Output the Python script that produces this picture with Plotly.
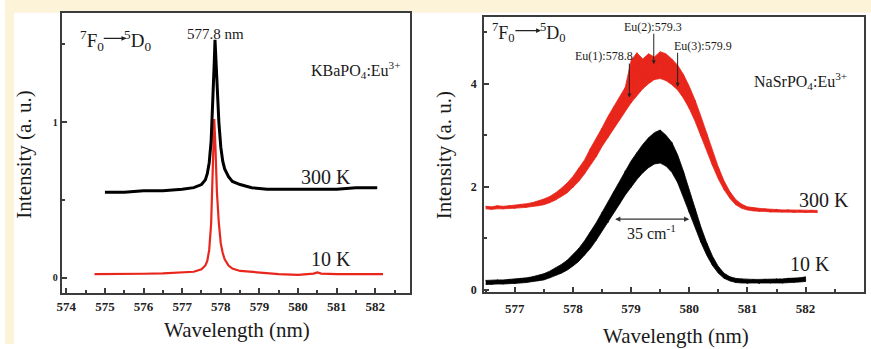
import plotly.graph_objects as go

W, H = 871, 349
CREAM = "#FDF3D8"
RED = "#E8261C"
AXC = "#3C3C3C"
FONT = "Liberation Serif"

# ---- KBaPO4:Eu3+ (left panel) ----
kba_300k_wl = [575.0, 575.5, 576.0, 576.5, 577.0, 577.3, 577.5, 577.6, 577.65, 577.7, 577.75,
               577.8, 577.83, 577.85, 577.87, 577.9, 577.95, 578.0, 578.05, 578.1, 578.2, 578.3,
               578.5, 578.8, 579.2, 579.6, 580.0, 580.5, 581.0, 581.5, 582.05]
kba_300k_int = [0.55, 0.55, 0.56, 0.56, 0.57, 0.58, 0.60, 0.63, 0.67, 0.74, 0.88,
                1.15, 1.38, 1.53, 1.40, 1.22, 1.00, 0.84, 0.75, 0.70, 0.65, 0.62,
                0.60, 0.58, 0.57, 0.57, 0.57, 0.57, 0.57, 0.58, 0.58]

kba_10k_wl = [574.73, 575.5, 576.0, 576.5, 577.0, 577.3, 577.5, 577.6, 577.65, 577.7, 577.75,
              577.8, 577.83, 577.86, 577.9, 577.95, 578.0, 578.05, 578.1, 578.2, 578.3, 578.5,
              579.0, 579.5, 580.0, 580.4, 580.5, 580.6, 581.0, 581.5, 582.2]
kba_10k_int = [0.025, 0.025, 0.027, 0.03, 0.035, 0.04, 0.055, 0.08, 0.11, 0.18, 0.35,
               0.70, 1.02, 0.85, 0.55, 0.35, 0.22, 0.16, 0.12, 0.08, 0.06, 0.045,
               0.035, 0.025, 0.02, 0.028, 0.036, 0.028, 0.025, 0.025, 0.025]

# ---- NaSrPO4:Eu3+ (right panel): upper / lower envelope of the noisy spectra ----
nasr_300k_wl = [576.5, 576.6, 576.7, 576.8, 576.9, 577.0, 577.1, 577.2, 577.3, 577.4,
                577.5, 577.6, 577.7, 577.8, 577.9, 578.0, 578.1, 578.2, 578.3, 578.4,
                578.5, 578.6, 578.7, 578.8, 578.9, 579.0, 579.1, 579.2, 579.3, 579.4,
                579.5, 579.6, 579.7, 579.8, 579.9, 580.0, 580.1, 580.2, 580.3, 580.4,
                580.5, 580.6, 580.7, 580.8, 580.9, 581.0, 581.1, 581.2, 581.3, 581.4,
                581.5, 581.6, 581.7, 581.8, 581.9, 582.0, 582.1, 582.2]
nasr_300k_hi = [1.62, 1.61, 1.63, 1.62, 1.63, 1.64, 1.65, 1.67, 1.69, 1.72,
                1.76, 1.81, 1.88, 1.97, 2.07, 2.20, 2.36, 2.52, 2.74, 2.93,
                3.14, 3.36, 3.55, 3.76, 3.93, 4.45, 4.60, 4.48, 4.58, 4.52,
                4.62, 4.58, 4.48, 4.36, 4.18, 3.95, 3.68, 3.37, 3.03, 2.70,
                2.38, 2.11, 1.90, 1.75, 1.66, 1.61, 1.59, 1.58, 1.57, 1.56,
                1.56, 1.55, 1.55, 1.55, 1.54, 1.54, 1.54, 1.54]
nasr_300k_lo = [1.57, 1.56, 1.57, 1.57, 1.58, 1.58, 1.59, 1.60, 1.61, 1.63,
                1.65, 1.69, 1.74, 1.81, 1.88, 1.98, 2.10, 2.25, 2.41, 2.58,
                2.78, 2.95, 3.12, 3.30, 3.46, 3.63, 3.77, 3.90, 4.00, 4.08,
                4.10, 4.06, 3.98, 3.88, 3.72, 3.52, 3.27, 2.99, 2.70, 2.41,
                2.15, 1.94, 1.77, 1.65, 1.58, 1.55, 1.53, 1.52, 1.52, 1.51,
                1.51, 1.51, 1.50, 1.50, 1.50, 1.50, 1.50, 1.50]

nasr_10k_wl = [576.5, 576.6, 576.7, 576.8, 576.9, 577.0, 577.1, 577.2, 577.3, 577.4,
               577.5, 577.6, 577.7, 577.8, 577.9, 578.0, 578.1, 578.2, 578.3, 578.4,
               578.5, 578.6, 578.7, 578.8, 578.9, 579.0, 579.1, 579.2, 579.3, 579.4,
               579.5, 579.6, 579.7, 579.8, 579.9, 580.0, 580.1, 580.2, 580.3, 580.4,
               580.5, 580.6, 580.7, 580.8, 580.9, 581.0, 581.1, 581.2, 581.3, 581.4,
               581.5, 581.6, 581.7, 581.8, 581.9, 582.0]
nasr_10k_hi = [0.18, 0.19, 0.19, 0.19, 0.20, 0.20, 0.21, 0.23, 0.25, 0.28,
               0.31, 0.36, 0.42, 0.49, 0.57, 0.68, 0.80, 0.95, 1.12, 1.30,
               1.50, 1.70, 1.90, 2.10, 2.31, 2.50, 2.66, 2.82, 2.95, 3.05,
               3.10, 3.00, 2.86, 2.62, 2.30, 1.93, 1.57, 1.22, 0.91, 0.65,
               0.45, 0.32, 0.25, 0.22, 0.21, 0.20, 0.20, 0.20, 0.20, 0.21,
               0.21, 0.21, 0.22, 0.22, 0.23, 0.25]
nasr_10k_lo = [0.10, 0.10, 0.11, 0.11, 0.12, 0.12, 0.13, 0.14, 0.15, 0.17,
               0.19, 0.23, 0.27, 0.32, 0.38, 0.46, 0.55, 0.67, 0.80, 0.96,
               1.12, 1.30, 1.48, 1.66, 1.84, 1.99, 2.14, 2.27, 2.37, 2.44,
               2.46, 2.40, 2.28, 2.08, 1.80, 1.50, 1.20, 0.92, 0.67, 0.47,
               0.32, 0.22, 0.17, 0.14, 0.13, 0.12, 0.12, 0.12, 0.12, 0.13,
               0.13, 0.13, 0.14, 0.14, 0.15, 0.16]

# site labels (name, wavelength of arrow, arrow tip intensity)
eu_sites = ["Eu(1):578.8", "Eu(2):579.3", "Eu(3):579.9"]
eu_arrow_wl = [578.97, 579.39, 579.80]
eu_arrow_tip = [3.73, 4.38, 3.94]
eu_arrow_tail = [4.42, 5.00, 4.63]
eu_text_wl = [578.53, 579.38, 580.23]
eu_text_y = [4.54, 5.11, 4.73]

# FWHM marker on the 10 K band
fwhm_wl = [578.70, 580.00]
fwhm_level = 1.37


def px(x):
    return x / W


def py(y):
    return 1 - y / H


def band(wl, hi, lo, color, xa, ya):
    poly = go.Scatter(x=wl + wl[::-1], y=hi + lo[::-1], fill="toself", fillcolor=color,
                      mode="lines", line=dict(color=color, width=0.8),
                      xaxis=xa, yaxis=ya, hoverinfo="skip", showlegend=False)
    zig_y = [hi[i] if i % 2 == 0 else lo[i] for i in range(len(wl))]
    zig = go.Scatter(x=wl, y=zig_y, mode="lines", line=dict(color=color, width=1),
                     xaxis=xa, yaxis=ya, hoverinfo="skip", showlegend=False)
    return [poly, zig]


fig = go.Figure()

fig.add_trace(go.Scatter(x=kba_10k_wl, y=kba_10k_int, mode="lines",
                         line=dict(color=RED, width=2.2), xaxis="x", yaxis="y", showlegend=False))
fig.add_trace(go.Scatter(x=kba_300k_wl, y=kba_300k_int, mode="lines",
                         line=dict(color="black", width=3), xaxis="x", yaxis="y", showlegend=False))

for tr in band(nasr_300k_wl, nasr_300k_hi, nasr_300k_lo, RED, "x2", "y2"):
    fig.add_trace(tr)
for tr in band(nasr_10k_wl, nasr_10k_hi, nasr_10k_lo, "black", "x2", "y2"):
    fig.add_trace(tr)

tick_font = dict(family=FONT, size=13, color="#222", weight="bold")
axis_common = dict(showline=True, mirror=True, linecolor=AXC, linewidth=1.8,
                   ticks="inside", tickcolor=AXC, tickwidth=1.5, ticklen=5,
                   showgrid=False, zeroline=False)

fig.update_layout(
    width=W, height=H,
    margin=dict(l=0, r=0, t=0, b=0),
    paper_bgcolor="white", plot_bgcolor="white",
    xaxis=dict(domain=[px(57), px(407)], range=[573.88, 582.89], tick0=574, dtick=1,
               minor=dict(ticks="inside", dtick=0.5, ticklen=3, tickcolor=AXC),
               anchor="y", ticklabelstandoff=1, tickfont=tick_font, **axis_common),
    yaxis=dict(domain=[py(297), py(13)], range=[-0.095, 1.703], tickvals=[0, 1],
               minor=dict(ticks="inside", dtick=0.5, ticklen=3, tickcolor=AXC),
               anchor="x", tickfont=dict(family=FONT, size=10, color="#222", weight="bold"),
               **axis_common),
    xaxis2=dict(domain=[px(481.7), px(864)], range=[576.47, 583.005], tick0=577, dtick=1,
                minor=dict(ticks="inside", dtick=0.5, ticklen=3, tickcolor=AXC),
                anchor="y2", ticklabelstandoff=4, tickfont=tick_font, **axis_common),
    yaxis2=dict(domain=[py(296), py(17)], range=[-0.04, 5.30], tickvals=[0, 2, 4],
                minor=dict(ticks="inside", dtick=1, ticklen=3, tickcolor=AXC),
                anchor="x2", ticklabelstandoff=3,
                tickfont=dict(family=FONT, size=12, color="#222", weight="bold"), **axis_common),
    shapes=[
        # cream page border along the top and left edges
        dict(type="rect", xref="paper", yref="paper", x0=0, x1=1, y0=py(13), y1=1,
             fillcolor=CREAM, line=dict(width=0), layer="below"),
        dict(type="rect", xref="paper", yref="paper", x0=0, x1=px(9), y0=0, y1=1,
             fillcolor=CREAM, line=dict(width=0), layer="below"),
    ],
)

ann = []


def ptext(x, y, text, size, xanchor="center", color="#1a1a1a"):
    ann.append(dict(x=px(x), y=py(y), xref="paper", yref="paper", text=text, showarrow=False,
                    xanchor=xanchor, yanchor="middle",
                    font=dict(family=FONT, size=size, color=color)))


# axis titles
ptext(233, 335, "Wavelength (nm)", 21)
ptext(675, 341, "Wavelength (nm)", 21)
for xc in (19, 441):
    ann.append(dict(x=px(xc), y=py(157), xref="paper", yref="paper", text="Intensity (a. u.)",
                    showarrow=False, textangle=-90, xanchor="center", yanchor="middle",
                    font=dict(family=FONT, size=21, color="#1a1a1a")))

# transition labels with arrow
for fx, dx, ya, fs, x0, x1 in [(87, 133, 41, 19, 98, 122), (501, 551, 33, 18, 512, 539)]:
    ptext(fx, ya, "<sup>7</sup>F<sub>0</sub>", fs)
    ptext(dx, ya, "<sup>5</sup>D<sub>0</sub>", fs)
    ann.append(dict(x=px(x1), y=py(ya - 2), xref="paper", yref="paper", text="",
                    showarrow=True, ax=x0 - x1, ay=0, arrowhead=2, arrowsize=0.8,
                    arrowwidth=1.2, arrowcolor="#222"))

# left panel labels
ptext(212, 34, "577.8 nm", 15)
ptext(353, 71, "KBaPO<sub>4</sub>:Eu<sup>3+</sup>", 16)
ptext(323, 180, "300 K", 20)
ptext(328, 263, "10 K", 20)

# right panel labels
ptext(800, 82, "NaSrPO<sub>4</sub>:Eu<sup>3+</sup>", 16)
ptext(824, 203, "300 K", 20)
ptext(810, 268, "10 K", 20)

for name, awl, tip, tail, twl, ty in zip(eu_sites, eu_arrow_wl, eu_arrow_tip, eu_arrow_tail,
                                         eu_text_wl, eu_text_y):
    ann.append(dict(x=twl, y=ty, xref="x2", yref="y2", text=name, showarrow=False,
                    font=dict(family=FONT, size=12, color="#1a1a1a")))
    ann.append(dict(x=awl, y=tip, ax=awl, ay=tail, xref="x2", yref="y2", axref="x2", ayref="y2",
                    text="", showarrow=True, arrowhead=2, arrowsize=0.8, arrowwidth=1,
                    arrowcolor="#222"))

ann.append(dict(x=fwhm_wl[1], y=fwhm_level, ax=fwhm_wl[0], ay=fwhm_level,
                xref="x2", yref="y2", axref="x2", ayref="y2", text="", showarrow=True,
                arrowhead=2, startarrowhead=2, arrowside="end+start", arrowsize=0.8,
                arrowwidth=1.3, arrowcolor="#333"))
ann.append(dict(x=(fwhm_wl[0] + fwhm_wl[1]) / 2, y=1.13, xref="x2", yref="y2",
                text="35 cm<sup>-1</sup>", showarrow=False,
                font=dict(family=FONT, size=16, color="#1a1a1a")))

fig.update_layout(annotations=ann)
fig.write_html("out.html")
